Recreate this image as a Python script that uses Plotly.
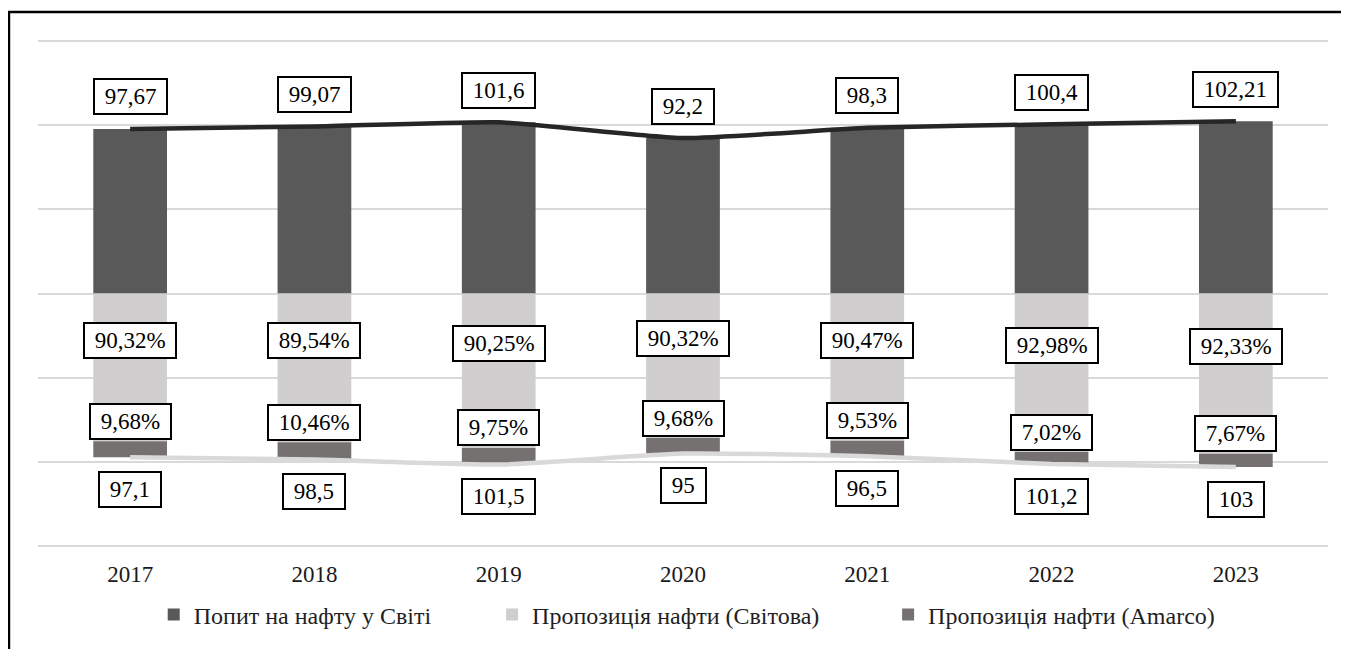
import plotly.graph_objects as go

years = ["2017", "2018", "2019", "2020", "2021", "2022", "2023"]
demand = [97.67, 99.07, 101.6, 92.2, 98.3, 100.4, 102.21]
supply = [97.1, 98.5, 101.5, 95, 96.5, 101.2, 103]
share_world = [90.32, 89.54, 90.25, 90.32, 90.47, 92.98, 92.33]
share_amarco = [9.68, 10.46, 9.75, 9.68, 9.53, 7.02, 7.67]
grid_vals = [-150, -100, -50, 0, 50, 100, 150]

names = ["Попит на нафту у Світі", "Пропозиція нафти (Світова)", "Пропозиція нафти (Amarco)"]
c_demand = "#595959"
c_world = "#d0cece"
c_amarco = "#767171"

# supply is drawn downward from zero (mirror chart): world part first, Amarco part below it
world_vol = [s * p / 100 for s, p in zip(supply, share_world)]
amarco_vol = [s * p / 100 for s, p in zip(supply, share_amarco)]
world_down = [-v for v in world_vol]
amarco_down = [-v for v in amarco_vol]
supply_down = [-v for v in supply]

FONT = "Liberation Serif, Times New Roman, serif"
FS = 23

fig = go.Figure()
fig.add_trace(go.Bar(x=years, y=demand, name=names[0], marker_color=c_demand,
                     marker_line_width=0, legend="legend"))
fig.add_trace(go.Bar(x=years, y=world_down, name=names[1], marker_color=c_world,
                     marker_line_width=0, legend="legend2"))
fig.add_trace(go.Bar(x=years, y=amarco_down, name=names[2], marker_color=c_amarco,
                     marker_line_width=0, legend="legend3"))
fig.add_trace(go.Scatter(x=years, y=demand, mode="lines", showlegend=False,
                         line=dict(color="#262626", width=4.5, shape="spline", smoothing=0.5)))
fig.add_trace(go.Scatter(x=years, y=supply_down, mode="lines", showlegend=False,
                         line=dict(color="#d9d9d9", width=4.5, shape="spline", smoothing=0.5)))


def fmt(v, dec=None):
    s = f"{v:.{dec}f}" if dec is not None else f"{v:g}"
    return s.replace(".", ",")


NB = "\u00a0"
box = dict(showarrow=False, bgcolor="white", bordercolor="black", borderwidth=2,
           borderpad=4, xref="x", yref="y",
           font=dict(family=FONT, size=FS, color="black"))
ann = []
for i, yr in enumerate(years):
    ann.append(dict(x=i, y=demand[i], yshift=32, text=NB + fmt(demand[i]) + NB, **box))
    ann.append(dict(x=i, y=supply_down[i], yshift=-32, text=NB + fmt(supply[i]) + NB, **box))
    ann.append(dict(x=i, y=world_down[i] / 2, yshift=27,
                    text=NB + fmt(share_world[i], 2) + "%" + NB, **box))
    ann.append(dict(x=i, y=world_down[i], yshift=20,
                    text=NB + fmt(share_amarco[i], 2) + "%" + NB, **box))

leg = dict(orientation="h", yanchor="middle", y=-0.1316, xanchor="left",
           font=dict(family=FONT, size=24, color="#1f1f1f"), bgcolor="rgba(0,0,0,0)")

fig.update_layout(
    width=1341, height=641,
    margin=dict(l=30, r=21, t=31, b=101),
    paper_bgcolor="white", plot_bgcolor="white",
    barmode="relative", bargap=0.6,
    font=dict(family=FONT, size=FS, color="#262626"),
    xaxis=dict(type="category", range=[-0.5, 6.5], showgrid=False, showline=False,
               ticks="", ticklabelstandoff=10,
               tickfont=dict(family=FONT, size=FS, color="#1a1a1a")),
    yaxis=dict(range=[-151, 151], tickvals=grid_vals,
               showticklabels=False, showgrid=True,
               gridcolor="#d9d9d9", gridwidth=2, zeroline=False, showline=False, ticks=""),
    legend=dict(leg, x=0.0897),
    legend2=dict(leg, x=0.352),
    legend3=dict(leg, x=0.659),
    annotations=ann,
    shapes=[dict(type="rect", xref="paper", yref="paper", x0=-0.0225, y0=1.053,
                 x1=1.2, y1=-0.4, line=dict(color="black", width=2.5), layer="above")],
)

fig.write_html("out.html")
